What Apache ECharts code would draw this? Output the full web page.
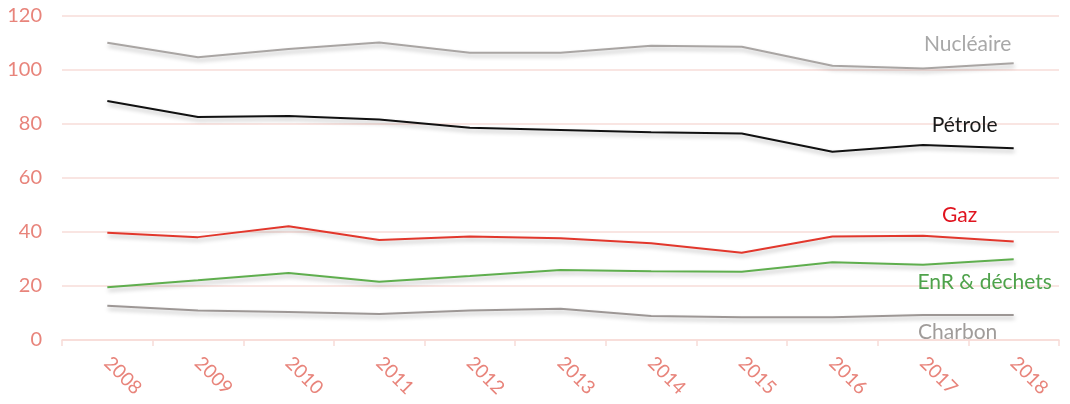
<!DOCTYPE html>
<html>
<head>
<meta charset="utf-8">
<script src="https://cdn.jsdelivr.net/npm/echarts@6/dist/echarts.min.js"></script>
<style>
  html, body { margin: 0; padding: 0; background: #fff; }
  #chart { width: 1070px; height: 404px; }
</style>
</head>
<body>
<div id="chart"></div>
<script>
// Years on the horizontal axis
const years = ['2008', '2009', '2010', '2011', '2012', '2013', '2014', '2015', '2016', '2017', '2018'];

// Consumption by energy source
const nucleaire = [110.1, 104.7, 107.8, 110.2, 106.4, 106.4, 109.0, 108.6, 101.6, 100.6, 102.5];
const petrole   = [88.5, 82.6, 83.0, 81.7, 78.6, 77.8, 76.9, 76.5, 69.7, 72.2, 71.0];
const gaz       = [39.7, 38.1, 42.1, 37.0, 38.3, 37.7, 35.8, 32.3, 38.3, 38.6, 36.5];
const enr       = [19.5, 22.1, 24.8, 21.6, 23.7, 25.9, 25.5, 25.3, 28.8, 27.9, 29.9];
const charbon   = [12.7, 10.9, 10.4, 9.6, 10.9, 11.6, 8.9, 8.4, 8.4, 9.3, 9.3];

// Series names shown next to the last point
const names = ['Nucléaire', 'Pétrole', 'Gaz', 'EnR & déchets', 'Charbon'];

const FONT = 'Lato, "Open Sans", sans-serif';
const AXIS_TEXT = '#e8847b';
const GRID_PINK = '#f7dcd8';

function makeSeries(name, values, lineColor, textColor, offset) {
  const last = values.length - 1;
  return {
    name: name,
    type: 'line',
    symbol: 'circle',
    symbolSize: 0,
    showSymbol: true,
    silent: true,
    data: values.map(function (v, i) {
      if (i !== last) return v;
      return {
        value: v,
        label: {
          show: true,
          position: 'inside',
          offset: offset,
          formatter: name,
          color: textColor,
          fontFamily: FONT,
          fontSize: 21,
          align: 'center',
          verticalAlign: 'middle'
        }
      };
    }),
    itemStyle: { color: lineColor },
    lineStyle: {
      color: lineColor,
      width: 2,
      shadowColor: 'rgba(0,0,0,0.28)',
      shadowBlur: 4,
      shadowOffsetX: 1,
      shadowOffsetY: 3
    },
    label: { show: false },
    emphasis: { disabled: true }
  };
}

const chart = echarts.init(document.getElementById('chart'), null, { renderer: 'canvas' });
chart.setOption({
  animation: false,
  backgroundColor: '#ffffff',
  grid: { left: 62, right: 11, top: 16, bottom: 64 },
  xAxis: {
    type: 'category',
    data: years,
    boundaryGap: true,
    axisLine: { show: true, lineStyle: { color: GRID_PINK, width: 1.5 } },
    axisTick: { show: true, length: 6, lineStyle: { color: GRID_PINK, width: 1.5 } },
    axisLabel: {
      rotate: -45,
      margin: 20,
      color: AXIS_TEXT,
      fontFamily: FONT,
      fontSize: 19
    },
    splitLine: { show: false }
  },
  yAxis: {
    type: 'value',
    min: 0,
    max: 120,
    interval: 20,
    axisLine: { show: false },
    axisTick: { show: false },
    axisLabel: {
      margin: 20,
      color: AXIS_TEXT,
      fontFamily: FONT,
      fontSize: 20
    },
    splitLine: { show: true, lineStyle: { color: GRID_PINK, width: 1.5 } }
  },
  series: [
    makeSeries(names[0], nucleaire, '#a9a5a3', '#a8a8a8', [-46, -19]),
    makeSeries(names[1], petrole, '#111111', '#1a1a1a', [-49, -23]),
    makeSeries(names[2], gaz, '#e2372c', '#e0141f', [-54, -26]),
    makeSeries(names[3], enr, '#5fae4e', '#4fa24b', [-29, 23]),
    makeSeries(names[4], charbon, '#9d9795', '#a09c9a', [-56, 17])
  ]
});
</script>
</body>
</html>
